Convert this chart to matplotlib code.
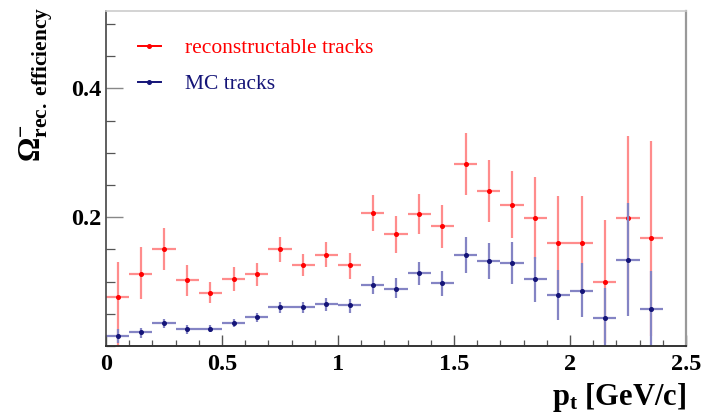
import matplotlib
matplotlib.use("Agg")
import matplotlib.pyplot as plt
from matplotlib.lines import Line2D
from matplotlib.ticker import MultipleLocator

plt.rcParams['font.family'] = ['Liberation Serif', 'DejaVu Serif']
plt.rcParams['mathtext.fontset'] = 'custom'
plt.rcParams['mathtext.rm'] = 'Liberation Serif'
plt.rcParams['mathtext.bf'] = 'Liberation Serif:bold'
plt.rcParams['mathtext.it'] = 'Liberation Serif:italic'

# ---- data ----
pt_centers = [0.05, 0.15, 0.25, 0.35, 0.45, 0.55, 0.65, 0.75, 0.85, 0.95, 1.05, 1.15,
              1.25, 1.35, 1.45, 1.55, 1.65, 1.75, 1.85, 1.95, 2.05, 2.15, 2.25, 2.35]
pt_halfwidth = [0.05] * 24

reco_eff = [0.076, 0.112, 0.150, 0.103, 0.083, 0.104, 0.112, 0.150, 0.126, 0.142, 0.125, 0.206,
            0.174, 0.205, 0.186, 0.283, 0.241, 0.219, 0.199, 0.160, 0.160, 0.100, 0.199, 0.167]
reco_err_lo = [0.076, 0.039, 0.032, 0.025, 0.017, 0.019, 0.019, 0.020, 0.018, 0.020, 0.021, 0.028,
               0.029, 0.031, 0.034, 0.049, 0.049, 0.052, 0.064, 0.073, 0.073, 0.095, 0.127, 0.151]
reco_err_hi = [0.054, 0.041, 0.033, 0.023, 0.017, 0.018, 0.017, 0.019, 0.017, 0.020, 0.019, 0.029,
               0.028, 0.031, 0.033, 0.048, 0.048, 0.052, 0.064, 0.073, 0.073, 0.095, 0.127, 0.151]

mc_eff = [0.015, 0.021, 0.035, 0.026, 0.027, 0.035, 0.045, 0.061, 0.061, 0.065, 0.063, 0.095,
          0.089, 0.113, 0.098, 0.142, 0.132, 0.129, 0.104, 0.079, 0.086, 0.044, 0.133, 0.058]
mc_err_lo = [0.010, 0.008, 0.007, 0.007, 0.006, 0.005, 0.007, 0.010, 0.010, 0.010, 0.012, 0.014,
             0.015, 0.019, 0.020, 0.028, 0.028, 0.032, 0.036, 0.038, 0.041, 0.044, 0.087, 0.058]
mc_err_hi = [0.011, 0.007, 0.007, 0.006, 0.005, 0.007, 0.006, 0.007, 0.008, 0.009, 0.010, 0.013,
             0.016, 0.018, 0.019, 0.027, 0.028, 0.032, 0.034, 0.039, 0.043, 0.046, 0.089, 0.058]

series_labels = ["reconstructable tracks", "MC tracks"]
x_ticks = [0, 0.5, 1, 1.5, 2, 2.5]
x_ticklabels = ["0", "0.5", "1", "1.5", "2", "2.5"]
y_ticks = [0.2, 0.4]
y_ticklabels = ["0.2", "0.4"]

RED = '#ff0000'
BLUE = '#141478'
RED_BAR = '#ff8c8c'
BLUE_BAR = '#8484c4'

fig = plt.figure(figsize=(7.04, 4.17), dpi=100)
ax = fig.add_axes([106 / 704, 1 - 346 / 417, 580 / 704, 335 / 417])

for y, lo, hi, col, bar in [(reco_eff, reco_err_lo, reco_err_hi, RED, RED_BAR),
                            (mc_eff, mc_err_lo, mc_err_hi, BLUE, BLUE_BAR)]:
    ax.errorbar(pt_centers, y, yerr=[lo, hi], xerr=pt_halfwidth, fmt='none',
                ecolor=bar, elinewidth=1.6, capsize=0)
    ax.plot(pt_centers, y, linestyle='none', marker='o', ms=2.6, color=col, mec=col)

ax.set_xlim(0, 2.5)
ax.set_ylim(0, 0.52)
ax.set_xticks(x_ticks)
ax.set_xticklabels(x_ticklabels)
ax.set_yticks(y_ticks)
ax.set_yticklabels(y_ticklabels)
ax.xaxis.set_minor_locator(MultipleLocator(0.1))
ax.yaxis.set_minor_locator(MultipleLocator(0.05))

ax.tick_params(axis='x', which='major', direction='in', length=8, width=1.0, color='#555555',
               labelsize=17.5, pad=6)
ax.tick_params(axis='x', which='minor', direction='in', length=4.5, width=0.9, color='#555555')
ax.tick_params(axis='y', which='major', direction='in', length=12, width=1.0, color='#888888',
               labelsize=17.5, pad=3)
ax.tick_params(axis='y', which='minor', direction='in', length=6.5, width=0.9, color='#555555')
for lab in ax.get_xticklabels() + ax.get_yticklabels():
    lab.set_fontweight('bold')

ax.spines['left'].set_color('#444444')
ax.spines['bottom'].set_color('#333333')
ax.spines['left'].set_linewidth(1.2)
ax.spines['bottom'].set_linewidth(1.4)
ax.spines['top'].set_color('#cccccc')
ax.spines['top'].set_linewidth(1.2)
ax.spines['right'].set_color('#999999')
ax.spines['right'].set_linewidth(1.6)

ax.set_xlabel(r'$\mathbf{p_{t}}$ [GeV/c]', fontsize=22, fontweight='bold', ha='right', va='center')
ax.xaxis.set_label_coords(1.0, -0.155)
ax.set_ylabel(r'$\mathbf{\Omega}^{\mathbf{-}}_{\mathbf{rec.\ efficiency}}$', fontsize=22,
              fontweight='bold', va='center', ha='center')
ax.yaxis.set_label_coords(-0.12, 0.78)

handles = [Line2D([], [], color=RED, marker='o', ms=2.6, lw=1.4),
           Line2D([], [], color=BLUE, marker='o', ms=2.6, lw=1.4)]
leg = ax.legend(handles, series_labels, loc='upper left', bbox_to_anchor=(0.021, 0.976),
                frameon=False, fontsize=15.5, handlelength=1.1, handletextpad=1.1,
                labelspacing=0.74, labelcolor=[RED, BLUE])

fig.savefig('out.png', dpi=100)
